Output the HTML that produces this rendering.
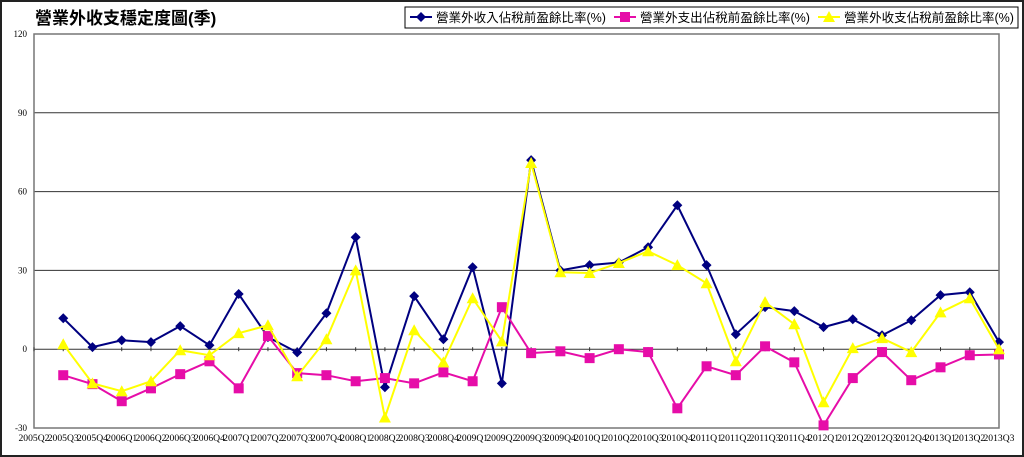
<!DOCTYPE html>
<html><head><meta charset="utf-8">
<style>
html,body{margin:0;padding:0;background:#fff;}
svg{display:block;font-family:"Liberation Serif","Noto Serif CJK SC","Noto Sans CJK TC",serif;}
</style></head>
<body>
<svg id="chart" width="1024" height="457" viewBox="0 0 1024 457">
<rect x="1" y="1" width="1022" height="455" fill="#fff" stroke="#222" stroke-width="2"/>
<text x="35" y="24" font-size="17" font-weight="bold" fill="#000" font-family="'Liberation Sans','Noto Sans CJK TC',sans-serif">營業外收支穩定度圖(季)</text>
<g id="legend">
<rect x="405" y="7" width="613" height="21" fill="#fff" stroke="#000" stroke-width="1"/>
</g>
<g id="grid"></g><g id="axes"></g><g id="series"></g>
</svg>
<script>
const categories=["2005Q2","2005Q3","2005Q4","2006Q1","2006Q2","2006Q3","2006Q4","2007Q1","2007Q2","2007Q3","2007Q4","2008Q1","2008Q2","2008Q3","2008Q4","2009Q1","2009Q2","2009Q3","2009Q4","2010Q1","2010Q2","2010Q3","2010Q4","2011Q1","2011Q2","2011Q3","2011Q4","2012Q1","2012Q2","2012Q3","2012Q4","2013Q1","2013Q2","2013Q3"];
const incomeValues=[null,11.8,0.8,3.4,2.7,8.8,1.5,21,4.6,-1.2,13.7,42.6,-14.5,20.2,3.8,31.2,-13,72,30,32,33,38.8,54.8,32,5.7,16,14.5,8.4,11.4,5.3,11,20.6,21.7,2.7];
const expenseValues=[null,-9.9,-13.3,-19.8,-14.9,-9.5,-4.6,-14.9,5,-9.1,-9.9,-12.2,-11,-13,-8.8,-12.2,16,-1.5,-0.8,-3.4,0,-1.1,-22.5,-6.5,-9.9,1.1,-5,-29,-11,-1.1,-11.8,-6.9,-2.3,-2];
const netValues=[null,1.9,-13,-16,-12.2,-0.4,-2.3,6.1,9.1,-10.3,3.8,30,-26,7.2,-5,19.4,3,70.9,29.3,29,32.8,37.3,32,25.1,-4.6,17.9,9.5,-20.2,0.4,4.2,-1.1,14,19.4,0];
const yTicks=[-30,0,30,60,90,120];
const seriesNames=["營業外收入佔稅前盈餘比率(%)","營業外支出佔稅前盈餘比率(%)","營業外收支佔稅前盈餘比率(%)"];

const NS="http://www.w3.org/2000/svg";
const L=34,R=999,T=34,B=428,yMin=-30,yMax=120;
const xPos=i=>L+(R-L)*i/(categories.length-1);
const yPos=v=>B-(v-yMin)/(yMax-yMin)*(B-T);
function mk(tag,attrs,parent){const e=document.createElementNS(NS,tag);for(const k in attrs)e.setAttribute(k,attrs[k]);parent.appendChild(e);return e;}
const grid=document.getElementById('grid'),axes=document.getElementById('axes'),ser=document.getElementById('series'),leg=document.getElementById('legend');

yTicks.forEach(t=>{
  const y=yPos(t);
  if(t>yMin&&t<yMax){const g=mk('line',{x1:L,x2:R,y1:y,y2:y,stroke:'#333','stroke-width':1},grid);
  
  }
  const tx=mk('text',{x:27,y:y+3,'text-anchor':'end','font-size':9,fill:'#000'},axes);
  tx.textContent=t;
  
  
});
const frame=mk('rect',{x:L,y:T,width:R-L,height:B-T,fill:'none',stroke:'#777','stroke-width':1.5},axes);


categories.forEach((c,i)=>{
  const x=xPos(i);
  const tk=mk('line',{x1:x,x2:x,y1:yPos(0)-2,y2:yPos(0)+2,stroke:'#333','stroke-width':1},axes);
  
  
  const tx=mk('text',{x:x,y:441,'text-anchor':'middle','font-size':9.5,fill:'#000',textLength:31,lengthAdjust:'spacingAndGlyphs'},axes);
  tx.textContent=c;
  
  
});

function marker(kind,x,y,color,parent){
  let e;
  if(kind==='diamond')e=mk('polygon',{points:`${x},${y-5} ${x+5},${y} ${x},${y+5} ${x-5},${y}`,fill:color},parent);
  else if(kind==='square')e=mk('rect',{x:x-5,y:y-5,width:10,height:10,fill:color},parent);
  else e=mk('polygon',{points:`${x},${y-6} ${x+6},${y+5} ${x-6},${y+5}`,fill:color},parent);
  return e;
}
const seriesDefs=[[incomeValues,'#000080','diamond','income'],[expenseValues,'#E60DA8','square','expense'],[netValues,'#FFFF00','triangle','net']];
seriesDefs.forEach(([vals,color,kind,nm])=>{
  const g=mk('g',{},ser);
  
  
  const pts=[];vals.forEach((v,i)=>{if(v!==null)pts.push(xPos(i)+','+yPos(v));});
  const pl=mk('polyline',{points:pts.join(' '),fill:'none',stroke:color,'stroke-width':2},g);
  
  
  vals.forEach((v,i)=>{if(v===null)return;
    const m=marker(kind,xPos(i),yPos(v),color,g);
    
    });
});
// legend entries
const legX=[410,614,818];
seriesDefs.forEach(([vals,color,kind,nm],k)=>{
  const g=mk('g',{},leg);
  
  
  const x=legX[k];
  mk('line',{x1:x,x2:x+22,y1:17,y2:17,stroke:color,'stroke-width':2},g);
  marker(kind,x+11,17,color,g);
  const t=mk('text',{x:x+26,y:22,'font-size':12.5,fill:'#000',textLength:170,lengthAdjust:'spacingAndGlyphs','font-family':"'Liberation Sans','Noto Sans CJK TC',sans-serif"},g);
  t.textContent=seriesNames[k];
});
</script>
</body></html>
